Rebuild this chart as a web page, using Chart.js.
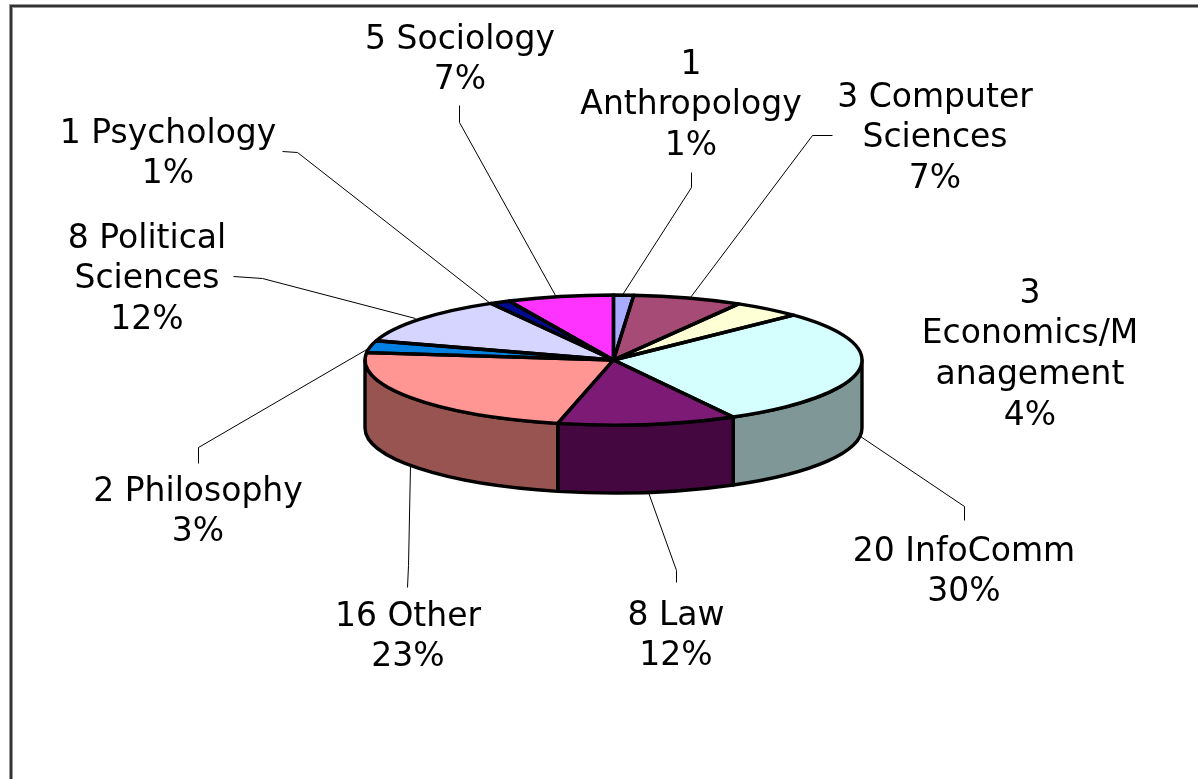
<!DOCTYPE html>
<html>
<head>
<meta charset="utf-8">
<style>html,body{margin:0;padding:0;background:#fff}canvas{display:block}</style>
<script src="https://cdn.jsdelivr.net/npm/chart.js@4/dist/chart.umd.js"></script>
</head>
<body>
<div style="width:1198px;height:779px"><canvas id="c"></canvas></div>
<script>
const categories = ["Anthropology","Computer Sciences","Economics/Management","InfoComm","Law","Other","Philosophy","Political Sciences","Psychology","Sociology"];
const counts = [1,3,3,20,8,16,2,8,1,5];
const printedPercents = [1,7,4,30,12,23,3,12,1,7];
const sliceShares = [1.3,7.1,4.5,29.1,11.6,23.2,3,12,1.3,6.9];
const topColors = ["#A9ABFF","#A54B76","#FFFFD5","#D5FFFF","#7D1A76","#FF9693","#0080E0","#D5D5FF","#000A8F","#FF33FF"];
const wallColors = ["#65667F","#632D47","#99997F","#7F9797","#44073F","#975450","#004D86","#7F7F99","#000655","#991F99"];
const labelLines = [
  ["1","Anthropology","1%"],
  ["3 Computer","Sciences","7%"],
  ["3","Economics/M","anagement","4%"],
  ["20 InfoComm","30%"],
  ["8 Law","12%"],
  ["16 Other","23%"],
  ["2 Philosophy","3%"],
  ["8 Political","Sciences","12%"],
  ["1 Psychology","1%"],
  ["5 Sociology","7%"]
];
const labelAnchors = [[691,65],[935,98],[1030,294],[964,552],[676,616],[408,617],[198,492],[147,239],[168,134],[460,40]];
const leaders = [
  [[691,172],[691,187],[621,296]],
  [[832,135],[812,135],[690,297]],
  null,
  [[964,520],[964,506],[860,436]],
  [[676,582],[676,570],[648,492]],
  [[407,587],[408,565],[410,465]],
  [[198,463],[198,447],[368,348]],
  [[233,276],[262,278],[415,318]],
  [[282,151],[297,152],[490,303]],
  [[459,105],[459,122],[555,295]]
];
const SQUASH = 65/248.5, DEPTH = 68, FONT = '33px "DejaVu Sans"', LINE = 40.8, EDGE = 3.4;

const pie3d = {
  id:'pie3d',
  beforeDatasetsDraw(chart){
    const ctx = chart.ctx, arcs = chart.getDatasetMeta(0).data;
    const a0 = arcs[0], cx = a0.x, cy = a0.y, r = a0.outerRadius, ry = r*SQUASH;
    ctx.save();
    ctx.lineWidth = 1; ctx.strokeStyle = '#000';
    leaders.forEach(l=>{ if(!l) return; ctx.beginPath(); l.forEach((p,i)=> i?ctx.lineTo(p[0]+.5,p[1]+.5):ctx.moveTo(p[0]+.5,p[1]+.5)); ctx.stroke(); });
    ctx.lineWidth = EDGE; ctx.lineJoin='round';
    arcs.forEach((a,i)=>{
      const n = x=>{ let v=x%(2*Math.PI); return v<0?v+2*Math.PI:v; };
      let s = n(a.startAngle), e = s+(a.endAngle-a.startAngle);
      const pairs = [[Math.max(s,0),Math.min(e,Math.PI)],[Math.max(s,2*Math.PI),Math.min(e,3*Math.PI)]];
      pairs.forEach(([u,v])=>{
        if(v<=u) return;
        ctx.beginPath();
        ctx.ellipse(cx,cy,r,ry,0,u,v);
        ctx.ellipse(cx,cy+DEPTH,r,ry,0,v,u,true);
        ctx.closePath();
        ctx.fillStyle = wallColors[i];
        ctx.fill(); ctx.stroke();
      });
    });
    ctx.restore();
    ctx.save();
    ctx.translate(cx,cy); ctx.scale(1,SQUASH); ctx.translate(-cx,-cy);
  },
  afterDatasetsDraw(chart){
    const ctx = chart.ctx, arcs = chart.getDatasetMeta(0).data;
    ctx.restore();
    const a0 = arcs[0], cx = a0.x, cy = a0.y, r = a0.outerRadius, ry = r*SQUASH;
    ctx.save();
    ctx.lineWidth = EDGE; ctx.strokeStyle='#000'; ctx.lineJoin='round';
    arcs.forEach(a=>{
      ctx.beginPath(); ctx.moveTo(cx,cy);
      ctx.ellipse(cx,cy,r,ry,0,a.startAngle,a.endAngle);
      ctx.closePath(); ctx.stroke();
    });
    ctx.restore();
    ctx.save();
    ctx.fillStyle='#000'; ctx.font=FONT; ctx.textAlign='center'; ctx.textBaseline='middle';
    labelLines.forEach((lines,i)=>{
      lines.forEach((t,k)=> ctx.fillText(t,labelAnchors[i][0],labelAnchors[i][1]+k*LINE));
    });
    ctx.strokeStyle='#999'; ctx.lineWidth=4;
    ctx.beginPath(); ctx.moveTo(11,779); ctx.lineTo(11,6); ctx.lineTo(1198,6); ctx.stroke();
    ctx.strokeStyle='#333'; ctx.lineWidth=2;
    ctx.beginPath(); ctx.moveTo(11,779); ctx.lineTo(11,6); ctx.lineTo(1198,6); ctx.stroke();
    ctx.restore();
  }
};

new Chart(document.getElementById('c'),{
  type:'pie',
  data:{labels:categories,datasets:[{data:sliceShares,backgroundColor:topColors,borderWidth:0}]},
  options:{
    responsive:true,maintainAspectRatio:false,animation:false,
    radius:248.5,
    layout:{padding:{left:29,bottom:59}},
    plugins:{legend:{display:false},tooltip:{enabled:false}}
  },
  plugins:[pie3d]
});
</script>
</body>
</html>
